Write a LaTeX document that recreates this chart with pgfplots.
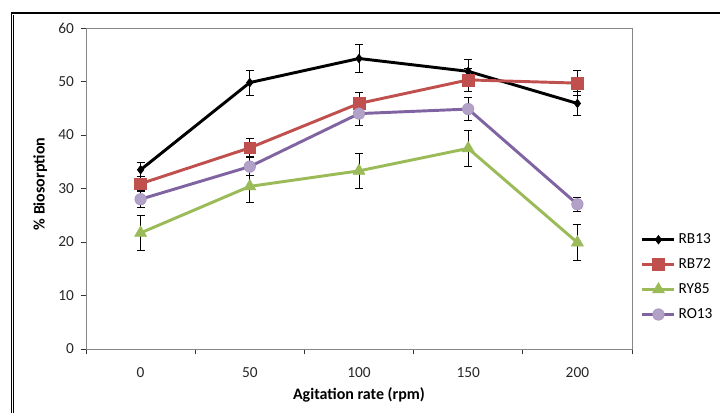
\documentclass[border=0pt]{standalone}
\usepackage{fontspec}
\setmainfont{Carlito}
\usepackage{pgfplots}
\pgfplotsset{compat=1.18}
\usetikzlibrary{calc}
\definecolor{rb72}{HTML}{C0504D}
\definecolor{ry85}{HTML}{9BBB59}
\definecolor{ro13}{HTML}{8064A2}
\definecolor{ro13fill}{HTML}{B3A2C7}
\definecolor{frame}{HTML}{868686}
\begin{document}
\begin{tikzpicture}
\begin{axis}[scale only axis,
 width=409.5pt,height=240.75pt,
 xmin=-0.5,xmax=4.5,ymin=0,ymax=60,
 xtick={0,1,2,3,4},xticklabels={0,50,100,150,200},
 minor xtick={-0.5,0.5,1.5,2.5,3.5,4.5},
 ytick={0,10,...,60},
 major tick length=4pt,minor tick length=4pt,tick align=outside,
 major x tick style={draw=none},
 minor x tick style={black!80,line width=0.6pt},
 major y tick style={black!80,line width=0.6pt},
 y tick label style={font=\fontsize{11.5}{13}\selectfont,text=black!85},
 x tick label style={font=\fontsize{11.5}{13}\selectfont,text=black!85,yshift=-6pt},
 /pgf/number format/assume math mode=true,
 yticklabel style={xshift=-1.5pt},
 tick pos=left,
 axis line style={frame,line width=0.6pt},
 xlabel={\bfseries Agitation rate (rpm)},
 ylabel={\bfseries \% Biosorption},
 label style={font=\fontsize{12}{14}\selectfont},
 xlabel style={at={(axis description cs:0.5,-0.143)},anchor=center},
 ylabel style={at={(axis description cs:-0.084,0.514)},anchor=center},
 legend style={draw=none,fill=none,at={(1.016,0.224)},anchor=west,
  font=\fontsize{11.5}{13}\selectfont,row sep=5.6pt,inner sep=0pt},
 legend cell align=left,
 legend image code/.code={\draw[mark repeat=2,mark phase=2,#1] plot coordinates {(0pt,0pt) (12pt,0pt) (24pt,0pt)};},
 error bars/error bar style={black,line width=0.7pt},
 error bars/error mark options={rotate=90,mark size=3pt,black,line width=0.7pt},
]
\coordinate (O) at (rel axis cs:0,0);
\addplot[black,line width=2.2pt,mark=diamond*,mark size=3.2pt,mark options={solid,line width=0.5pt},
 error bars/.cd,y dir=both,y explicit]
 coordinates {(0,33.5)+-(0,1.3) (1,49.8)+-(0,2.35) (2,54.3)+-(0,2.7) (3,51.9)+-(0,2.2) (4,45.9)+-(0,2.3)};
\addlegendentry{RB13}
\addplot[rb72,line width=2.2pt,mark=square*,mark size=4.4pt,mark options={solid,line width=0.4pt},
 error bars/.cd,y dir=both,y explicit]
 coordinates {(0,30.9)+-(0,1.3) (1,37.6)+-(0,1.7) (2,45.9)+-(0,2.0) (3,50.3)+-(0,2.2) (4,49.7)+-(0,2.3)};
\addlegendentry{RB72}
\addplot[ry85,line width=2.2pt,mark=triangle*,mark size=5.2pt,mark options={solid,line width=0.4pt},
 error bars/.cd,y dir=both,y explicit]
 coordinates {(0,21.7)+-(0,3.2) (1,30.4)+-(0,3.1) (2,33.3)+-(0,3.3) (3,37.5)+-(0,3.3) (4,19.9)+-(0,3.3)};
\addlegendentry{RY85}
\addplot[ro13,line width=2.2pt,mark=*,mark size=4.3pt,mark options={solid,fill=ro13fill,draw=ro13fill!80!ro13,line width=0.5pt},
 error bars/.cd,y dir=both,y explicit]
 coordinates {(0,28.0)+-(0,1.5) (1,34.1)+-(0,1.7) (2,44.0)+-(0,2.3) (3,44.85)+-(0,2.15) (4,27.05)+-(0,1.3)};
\addlegendentry{RO13}
\end{axis}
% page frame: 720x412 px at 0.75pt/px, plot area corner at px (86,349)
\pgfresetboundingbox
\path[use as bounding box] ($(O)+(-64.5pt,-47.25pt)$) rectangle ++(540pt,309pt);
% outer chart frame (cropped)
\draw[black,line width=1.5pt] ($(O)+(-56.25pt,252pt)$) -- ++(532pt,0);
\draw[black,line width=0.7pt] ($(O)+(-56.25pt,252pt)$) -- ++(0,-300pt);
\draw[black,line width=0.7pt] ($(O)+(-54.3pt,250.5pt)$) -- ++(0,-300pt);
\end{tikzpicture}
\end{document}
